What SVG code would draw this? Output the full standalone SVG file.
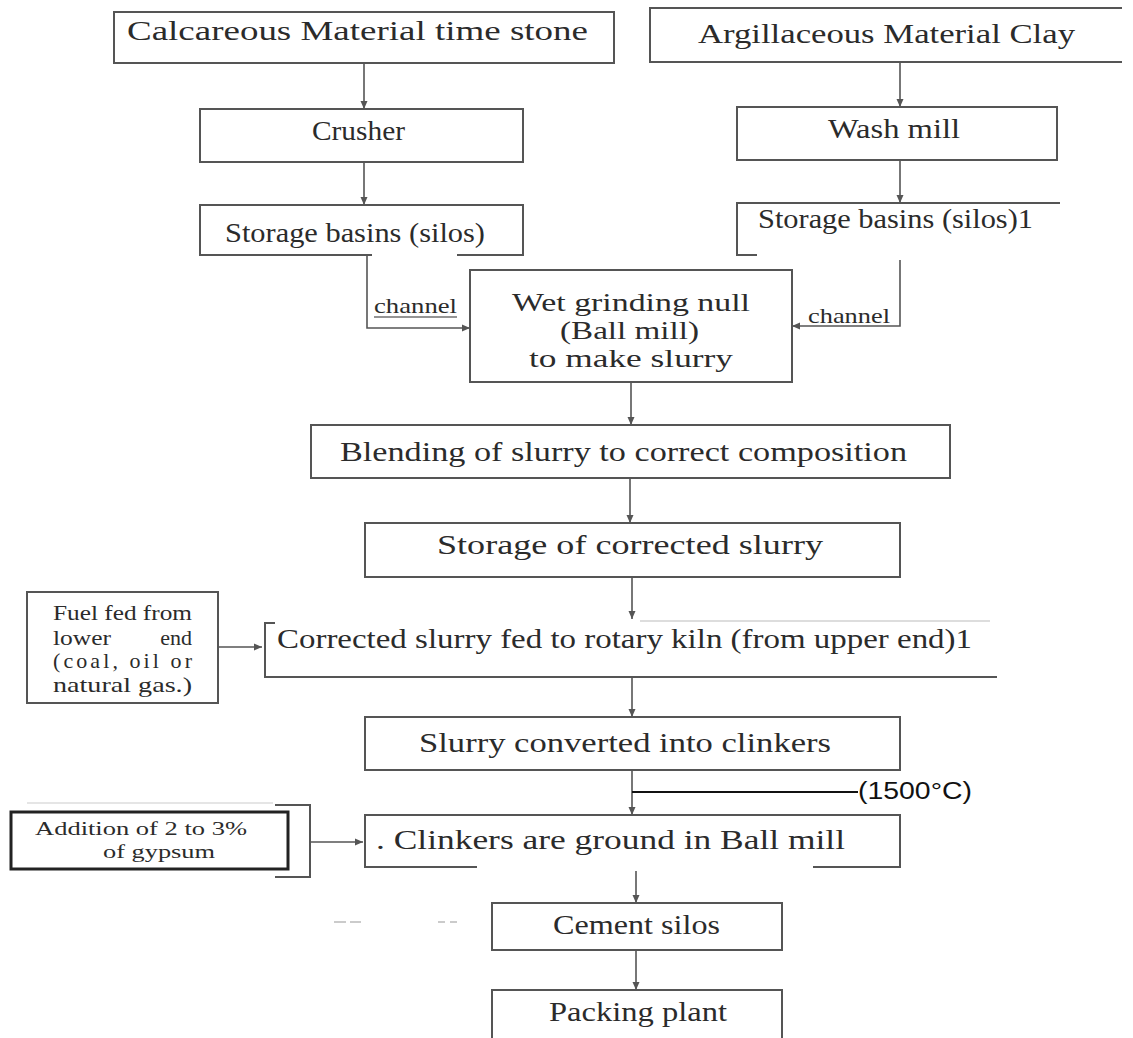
<svg xmlns="http://www.w3.org/2000/svg" width="1133" height="1038" viewBox="0 0 1133 1038">
<style>
.box{fill:none;stroke:#555;stroke-width:2}
.c{fill:none;stroke:#555;stroke-width:1.6}
.t{font-family:"Liberation Serif",serif;font-size:27px;fill:#2b2b2b}
.w{font-size:25px}
.s{font-size:22px}
.g{font-size:19px}
</style>
<defs>
<marker id="ah" markerUnits="userSpaceOnUse" markerWidth="8" markerHeight="8" refX="8" refY="4" orient="auto"><path d="M0,0.5 L8,4 L0,7.5 z" fill="#555"/></marker>
</defs>
<rect width="1133" height="1038" fill="#fff"/>
<g id="connectors">
<line class="c" x1="364" y1="63" x2="364" y2="109" marker-end="url(#ah)"/>
<line class="c" x1="364" y1="162" x2="364" y2="205" marker-end="url(#ah)"/>
<path class="c" d="M367,255 L367,328 L470,328" marker-end="url(#ah)"/>
<line class="c" x1="900" y1="62" x2="900" y2="107" marker-end="url(#ah)"/>
<line class="c" x1="900" y1="160" x2="900" y2="203" marker-end="url(#ah)"/>
<path class="c" d="M900,260 L900,326 L792,326" marker-end="url(#ah)"/>
<line class="c" x1="631" y1="382" x2="631" y2="425" marker-end="url(#ah)"/>
<line class="c" x1="630" y1="478" x2="630" y2="523" marker-end="url(#ah)"/>
<line class="c" x1="632" y1="577" x2="632" y2="619" marker-end="url(#ah)"/>
<line class="c" x1="218" y1="647" x2="262" y2="647" marker-end="url(#ah)"/>
<line class="c" x1="632" y1="677" x2="632" y2="717" marker-end="url(#ah)"/>
<line class="c" x1="632" y1="770" x2="632" y2="815" marker-end="url(#ah)"/>
<line x1="632" y1="792" x2="858" y2="792" stroke="#111" stroke-width="2"/>
<line class="c" x1="310" y1="842" x2="363" y2="842" marker-end="url(#ah)"/>
<line class="c" x1="636" y1="871" x2="636" y2="903" marker-end="url(#ah)"/>
<line class="c" x1="636" y1="950" x2="636" y2="990" marker-end="url(#ah)"/>
</g>
<g id="calcareous">
<rect class="box" x="114" y="12" width="500" height="51"/>
<text class="t" x="127" y="40" textLength="461" lengthAdjust="spacingAndGlyphs">Calcareous Material time stone</text>
</g>
<g id="argillaceous">
<path class="box" d="M1122,8 L650,8 L650,62 L1122,62"/>
<text class="t" x="698" y="43" textLength="377" lengthAdjust="spacingAndGlyphs">Argillaceous Material Clay</text>
</g>
<g id="crusher">
<rect class="box" x="200" y="109" width="323" height="53"/>
<text class="t" x="312" y="140" textLength="93" lengthAdjust="spacingAndGlyphs">Crusher</text>
</g>
<g id="washmill">
<rect class="box" x="737" y="107" width="320" height="53"/>
<text class="t" x="828" y="138" textLength="132" lengthAdjust="spacingAndGlyphs">Wash mill</text>
</g>
<g id="storage-left">
<path class="box" d="M372,255 L200,255 L200,205 L523,205 L523,255 L457,255"/>
<text class="t" x="225" y="242" textLength="260" lengthAdjust="spacingAndGlyphs">Storage basins (silos)</text>
</g>
<g id="storage-right">
<path class="box" d="M1060,203 L737,203 L737,255 L757,255"/>
<text class="t" x="758" y="228" textLength="275" lengthAdjust="spacingAndGlyphs">Storage basins (silos)1</text>
</g>
<g id="channel-labels">
<text class="t s" x="374" y="313" textLength="83" lengthAdjust="spacingAndGlyphs">channel</text>
<line x1="374" y1="317" x2="457" y2="317" stroke="#2b2b2b" stroke-width="1.2"/>
<text class="t s" x="808" y="323" textLength="82" lengthAdjust="spacingAndGlyphs">channel</text>
</g>
<g id="wetgrinding">
<rect class="box" x="470" y="270" width="322" height="112"/>
<text class="t w" x="512" y="311" textLength="238" lengthAdjust="spacingAndGlyphs">Wet grinding null</text>
<text class="t w" x="560" y="339" textLength="139" lengthAdjust="spacingAndGlyphs">(Ball mill)</text>
<text class="t w" x="529" y="367" textLength="204" lengthAdjust="spacingAndGlyphs">to make slurry</text>
</g>
<g id="blending">
<rect class="box" x="311" y="425" width="639" height="53"/>
<text class="t" x="340" y="461" textLength="567" lengthAdjust="spacingAndGlyphs">Blending of slurry to correct composition</text>
</g>
<g id="storage-corrected">
<rect class="box" x="365" y="523" width="535" height="54"/>
<text class="t" x="437" y="554" textLength="386" lengthAdjust="spacingAndGlyphs">Storage of corrected slurry</text>
</g>
<g id="fuel">
<rect class="box" x="27" y="592" width="191" height="111"/>
<text class="t s" x="53" y="620" textLength="139" lengthAdjust="spacingAndGlyphs">Fuel fed from</text>
<text class="t s" x="53" y="645" textLength="58" lengthAdjust="spacingAndGlyphs">lower</text>
<text class="t s" x="192" y="645" text-anchor="end">end</text>
<text class="t s" x="53" y="668" textLength="139" lengthAdjust="spacing">(coal, oil or</text>
<text class="t s" x="53" y="692" textLength="139" lengthAdjust="spacingAndGlyphs">natural gas.)</text>
</g>
<g id="kiln">
<path class="box" d="M275,623 L265,623 L265,677 L997,677"/>
<line x1="640" y1="621" x2="990" y2="621" stroke="#bbb" stroke-width="1.2"/>
<text class="t" x="277" y="648" textLength="695" lengthAdjust="spacingAndGlyphs">Corrected slurry fed to rotary kiln (from upper end)1</text>
</g>
<g id="clinkers-conv">
<rect class="box" x="365" y="717" width="535" height="53"/>
<text class="t" x="419" y="752" textLength="412" lengthAdjust="spacingAndGlyphs">Slurry converted into clinkers</text>
</g>
<g id="temp">
<text x="858" y="799" font-family="'Liberation Sans', sans-serif" font-size="23" fill="#111" textLength="114" lengthAdjust="spacingAndGlyphs">(1500°C)</text>
</g>
<g id="gypsum">
<line x1="27" y1="803" x2="273" y2="803" stroke="#ccc" stroke-width="1.2"/>
<rect x="11" y="812" width="277" height="57" fill="none" stroke="#222" stroke-width="3"/>
<text class="t g" x="35" y="835" textLength="212" lengthAdjust="spacingAndGlyphs">Addition of 2 to 3%</text>
<text class="t g" x="103" y="858" textLength="112" lengthAdjust="spacingAndGlyphs">of gypsum</text>
<path class="box" d="M275,805 L310,805 L310,877 L275,877"/>
</g>
<g id="ballmill">
<path class="box" d="M477,867 L365,867 L365,815 L900,815 L900,867 L813,867"/>
<text class="t" x="376" y="849" textLength="469" lengthAdjust="spacingAndGlyphs">. Clinkers are ground in Ball mill</text>
</g>
<g id="cementsilos">
<rect class="box" x="492" y="903" width="290" height="47"/>
<text class="t" x="553" y="934" textLength="167" lengthAdjust="spacingAndGlyphs">Cement silos</text>
<path d="M334,922 L346,922 M350,922 L361,922 M438,922 L445,922 M450,922 L457,922" stroke="#bbb" stroke-width="1.5"/>
</g>
<g id="packing">
<path class="box" d="M492,1040 L492,990 L782,990 L782,1040"/>
<text class="t" x="549" y="1021" textLength="178" lengthAdjust="spacingAndGlyphs">Packing plant</text>
</g>
</svg>
